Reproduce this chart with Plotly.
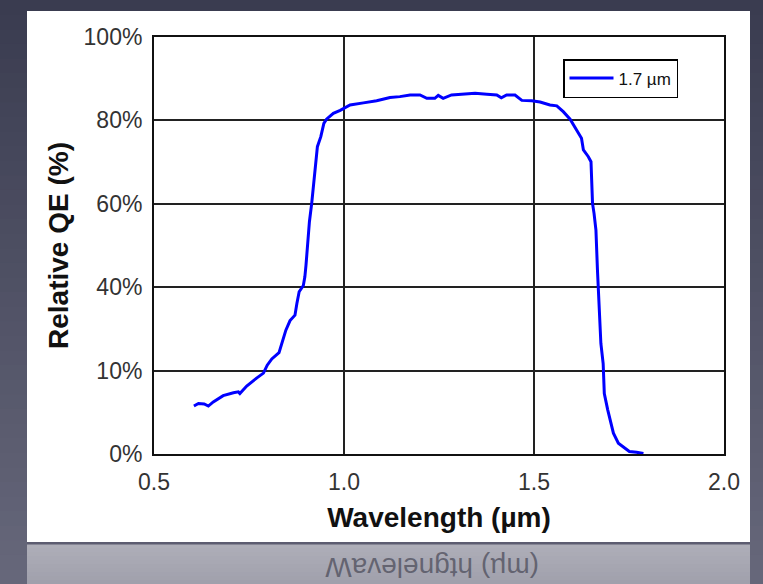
import plotly.graph_objects as go

# ---- data ----
wavelength_um = [0.605, 0.617, 0.632, 0.643, 0.656, 0.682, 0.709, 0.722, 0.726, 0.744,
                 0.770, 0.788, 0.798, 0.810, 0.829, 0.836, 0.847, 0.858, 0.871, 0.876,
                 0.882, 0.893, 0.897, 0.900, 0.903, 0.909, 0.915, 0.919, 0.924, 0.930,
                 0.939, 0.947, 0.954, 0.972, 0.990, 1.016, 1.051, 1.086, 1.121, 1.147,
                 1.174, 1.200, 1.218, 1.239, 1.248, 1.261, 1.283, 1.314, 1.345, 1.376,
                 1.402, 1.414, 1.428, 1.450, 1.468, 1.494, 1.516, 1.542, 1.560, 1.577,
                 1.595, 1.612, 1.625, 1.630, 1.643, 1.650, 1.652, 1.654, 1.658, 1.663,
                 1.667, 1.672, 1.676, 1.682, 1.685, 1.694, 1.703, 1.709, 1.722, 1.739,
                 1.751, 1.770, 1.788]
relative_qe = [11.5, 12.1, 12.0, 11.5, 12.5, 14.0, 14.7, 14.9, 14.5, 16.3,
               18.2, 19.4, 21.3, 22.8, 24.3, 26.5, 29.7, 32.0, 33.3, 36.1,
               38.9, 40.4, 42.5, 45.3, 48.9, 55.7, 60.1, 64.1, 68.5, 73.7,
               76.1, 79.3, 80.3, 81.7, 82.4, 83.7, 84.2, 84.7, 85.5, 85.7,
               86.1, 86.1, 85.3, 85.3, 86.0, 85.3, 86.1, 86.3, 86.5, 86.3,
               86.1, 85.4, 86.1, 86.1, 84.8, 84.7, 84.4, 83.7, 83.5, 82.1,
               80.3, 77.7, 75.7, 72.9, 71.3, 70.1, 64.9, 60.1, 57.7, 53.7,
               44.1, 34.5, 26.5, 21.7, 14.5, 10.6, 7.4, 5.0, 2.6, 1.4,
               0.6, 0.4, 0.1]
series_name = "1.7 µm"
x_tick_vals = [0.5, 1.0, 1.5, 2.0]
x_tick_text = ["0.5", "1.0", "1.5", "2.0"]
y_tick_vals = [0, 20, 40, 60, 80, 100]
y_tick_text = ["0%", "10%", "40%", "60%", "80%", "100%"]
x_title = "Wavelength (µm)"
y_title = "Relative QE (%)"

# ---- geometry ----
W, H = 763, 584
L, R, T, B = 154, 724, 37, 454  # plot area in pixels


def px(x):
    return (x - L) / (R - L)


def py(y):
    return (B - y) / (B - T)


def lerp(c1, c2, t):
    return "rgb(%d,%d,%d)" % tuple(round(a + (b - a) * t) for a, b in zip(c1, c2))


FONT = "Liberation Sans, Arial, sans-serif"

shapes = []
# slide background gradient
n = 40
top_c, bot_c = (58, 60, 80), (102, 103, 122)
for i in range(n):
    y0 = H * i / n
    y1 = H * (i + 1) / n + 1
    shapes.append(dict(type="rect", xref="paper", yref="paper", layer="below",
                       x0=px(0), x1=px(W), y0=py(y0), y1=py(y1),
                       fillcolor=lerp(top_c, bot_c, i / (n - 1)), line_width=0))
# reflection strip
m = 10
for i in range(m):
    y0 = 544 + 40 * i / m
    y1 = 544 + 40 * (i + 1) / m + 0.5
    shapes.append(dict(type="rect", xref="paper", yref="paper", layer="below",
                       x0=px(27), x1=px(750), y0=py(y0), y1=py(y1),
                       fillcolor=lerp((174, 174, 184), (160, 160, 172), i / (m - 1)),
                       line_width=0))
# separator under the panel
shapes.append(dict(type="rect", xref="paper", yref="paper", layer="below",
                   x0=px(27), x1=px(750), y0=py(542), y1=py(544.5),
                   fillcolor="rgb(92,92,112)", line_width=0))
# white panel
shapes.append(dict(type="rect", xref="paper", yref="paper", layer="below",
                   x0=px(27), x1=px(750), y0=py(11), y1=py(542),
                   fillcolor="white", line_width=0))

fig = go.Figure()
fig.add_trace(go.Scatter(x=wavelength_um, y=relative_qe, mode="lines", name=series_name,
                         line=dict(color="#0000ff", width=3), showlegend=True))

# mirrored reflection of the x-axis title (rotated 180°, order reversed, brackets swapped)
reflection_text = "".join(reversed(x_title)).translate(str.maketrans("()", ")("))
annotations = [
    dict(text=reflection_text, xref="paper", yref="paper",
         x=px(432), y=py(568), xanchor="center", yanchor="middle", textangle=180,
         showarrow=False, font=dict(family=FONT, size=28, color="rgba(70,70,84,0.7)"))
]

fig.update_layout(
    width=W, height=H,
    margin=dict(l=L, r=W - R, t=T, b=H - B, pad=0),
    paper_bgcolor="rgb(80,82,100)",
    plot_bgcolor="rgba(0,0,0,0)",
    shapes=shapes,
    annotations=annotations,
    showlegend=True,
    legend=dict(x=px(563), y=py(59), xanchor="left", yanchor="top",
                bgcolor="white", bordercolor="black", borderwidth=1.5,
                font=dict(family=FONT, size=17, color="#111"),
                itemwidth=44, tracegroupgap=0),
    xaxis=dict(range=[0.5, 2.0], tickvals=x_tick_vals, ticktext=x_tick_text,
               showgrid=True, gridcolor="#222", gridwidth=1.5,
               showline=True, linecolor="#111", linewidth=2, mirror=True,
               zeroline=False, ticks="", ticklabelstandoff=6,
               tickfont=dict(family=FONT, size=23, color="#333"),
               automargin=False,
               title=dict(text=x_title, standoff=14,
                          font=dict(family=FONT, size=28, color="#111", weight="bold"))),
    yaxis=dict(range=[0, 100], tickvals=y_tick_vals, ticktext=y_tick_text,
               showgrid=True, gridcolor="#222", gridwidth=1.5,
               showline=True, linecolor="#111", linewidth=2, mirror=True,
               zeroline=False, ticks="", ticklabelstandoff=5,
               tickfont=dict(family=FONT, size=23, color="#333"),
               automargin=False,
               title=dict(text=y_title, standoff=7,
                          font=dict(family=FONT, size=28, color="#111", weight="bold"))),
)

fig.write_html("out.html",
               config={"displayModeBar": False},
               post_script="document.body.style.margin='0px';document.body.style.overflow='hidden';")
